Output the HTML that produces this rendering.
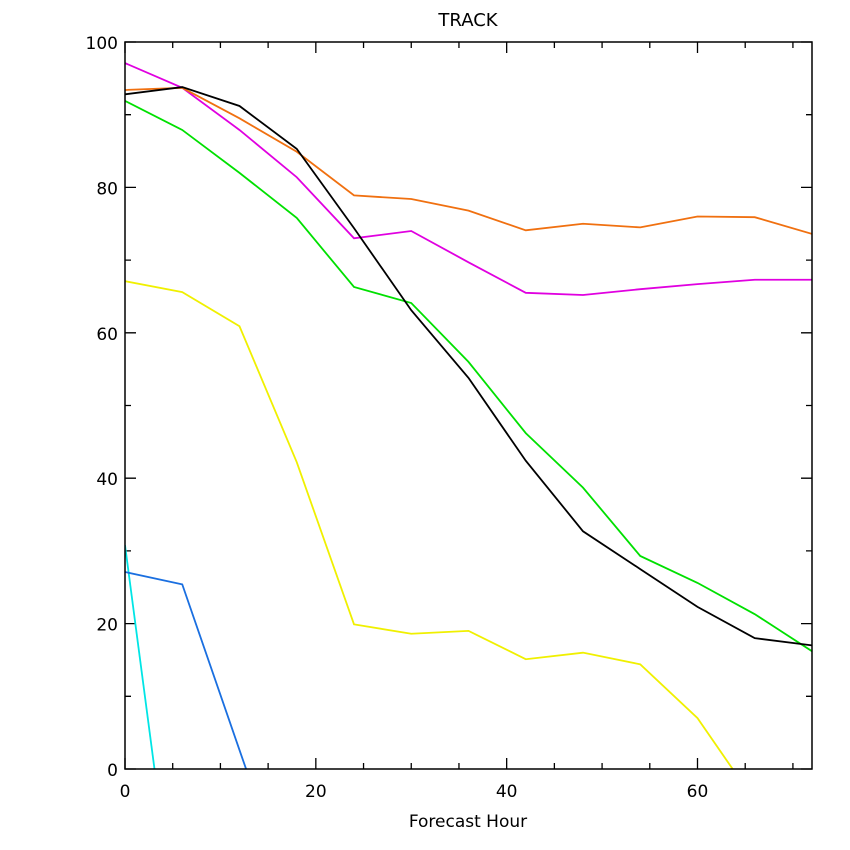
<!DOCTYPE html>
<html><head><meta charset="utf-8"><style>html,body{margin:0;padding:0;background:#fff;width:850px;height:850px;overflow:hidden}svg{display:block}text{font-family:"DejaVu Sans","Liberation Sans",sans-serif;fill:#000}</style></head>
<body>
<svg id="chart" width="850" height="850" viewBox="0 0 850 850" xmlns="http://www.w3.org/2000/svg">
<defs><clipPath id="plotclip"><rect x="125" y="42" width="687" height="727"/></clipPath></defs>
<rect width="850" height="850" fill="#fff"/>
<text x="468" y="26" font-size="18" text-anchor="middle">TRACK</text>
<text x="468" y="827" font-size="17" text-anchor="middle">Forecast Hour</text>
<g id="axes"></g>
<g id="series" clip-path="url(#plotclip)"></g>
<rect x="125" y="42" width="687" height="727" fill="none" stroke="#000" stroke-width="1.5"/>
</svg>
<script>
const hours = [0,6,12,18,24,30,36,42,48,54,60,66,72];
const black = [92.8,93.8,91.2,85.3,74.4,63.1,53.8,42.4,32.7,27.5,22.3,18,17];
const orange = [93.4,93.7,89.5,84.9,78.9,78.4,76.8,74.1,75,74.5,76,75.9,73.6];
const magenta = [97.1,93.7,87.9,81.4,73,74,69.7,65.5,65.2,66,66.7,67.3,67.3];
const green = [91.9,87.9,82,75.8,66.3,64.1,56,46.2,38.7,29.3,25.6,21.3,16.2];
const yellow = [67.1,65.6,60.9,42.2,19.9,18.6,19,15.1,16,14.4,7,-4.4];
const blue = [27.1,25.4,2.6,-20];
const cyan = [30.8,-29];
const xTickLabels = [0,20,40,60];
const yTickLabels = [0,20,40,60,80,100];
const X0=125,X1=812,Y0=769,Y1=42;
const sx=h=>X0+(h/72)*(X1-X0);
const sy=v=>Y0-(v/100)*(Y0-Y1);
const NS="http://www.w3.org/2000/svg";
const axes=document.getElementById('axes'), ser=document.getElementById('series');
function mk(tag,attrs,parent){const e=document.createElementNS(NS,tag);for(const k in attrs)e.setAttribute(k,attrs[k]);parent.appendChild(e);return e;}
for(let h=0;h<=72;h+=5){const x=sx(h);const L=(h%20===0)?11:6;
 const t=mk('path',{d:`M${x},${Y0}v${-L}M${x},${Y1}v${L}`,stroke:'#000','stroke-width':1.3},axes);
 
 }
for(let v=0;v<=100;v+=10){const y=sy(v);const L=(v%20===0)?11:6;
 const t=mk('path',{d:`M${X0},${y}h${L}M${X1},${y}h${-L}`,stroke:'#000','stroke-width':1.3},axes);
 
 }
xTickLabels.forEach(v=>{const t=mk('text',{x:sx(v),y:797,'font-size':17,'text-anchor':'middle'},axes);t.textContent=v;
 
 });
yTickLabels.forEach(v=>{const t=mk('text',{x:118,y:sy(v)+7,'font-size':17,'text-anchor':'end'},axes);t.textContent=v;
 
 });
const all=[['cyan',cyan,'#00e5e5'],['blue',blue,'#1a6fe0'],['yellow',yellow,'#f0f000'],['green',green,'#00e000'],['magenta',magenta,'#e000e0'],['orange',orange,'#f07010'],['black',black,'#000']];
all.forEach(([n,vals,c])=>{const d=vals.map((v,i)=>(i?'L':'M')+sx(hours[i])+','+sy(v)).join('');
 const p=mk('path',{d,fill:'none',stroke:c,'stroke-width':1.8},ser);
 
 });
</script>
</body></html>
